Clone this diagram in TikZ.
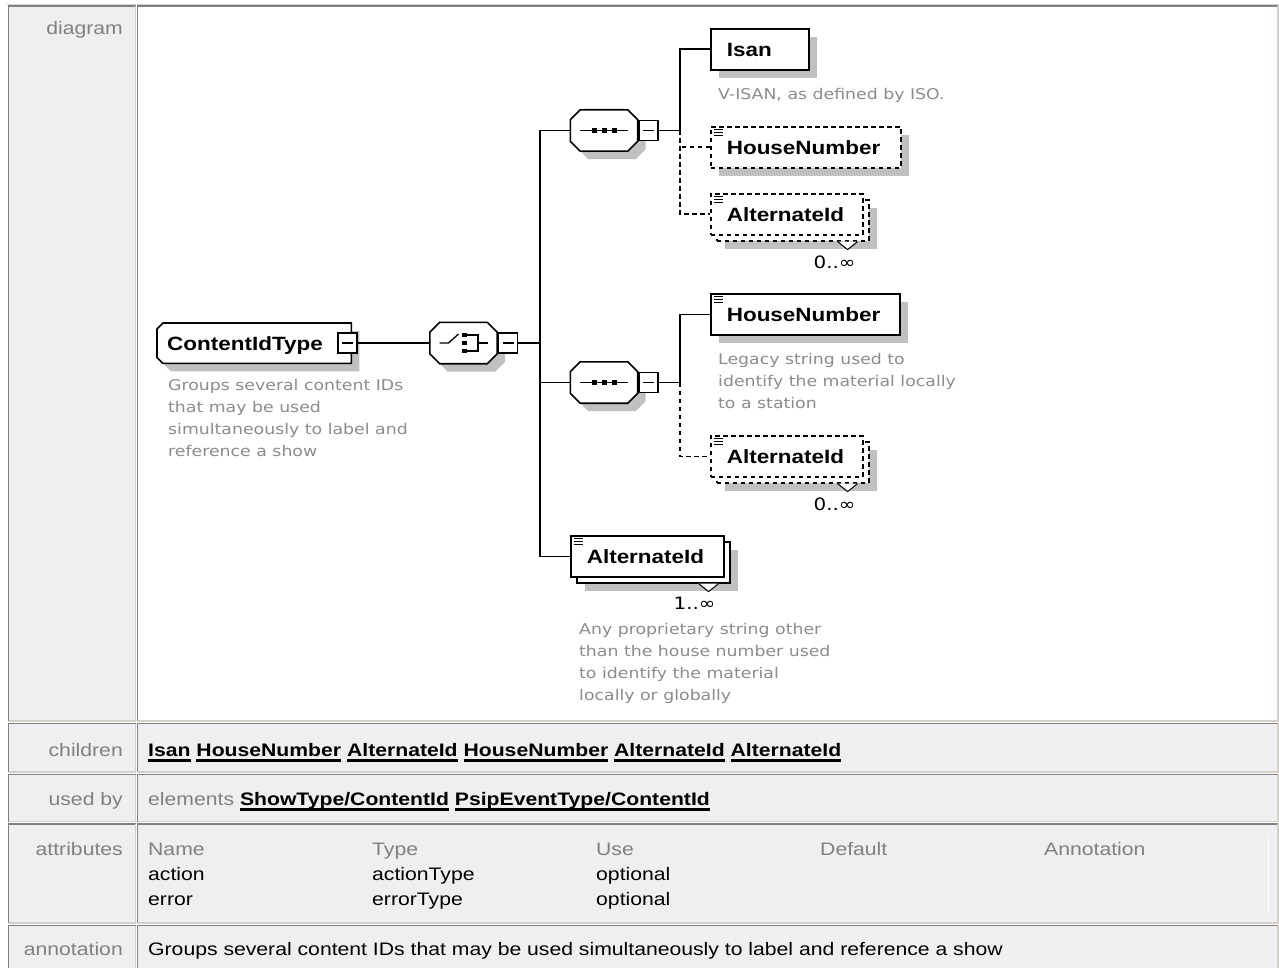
\documentclass[tikz,border=0pt]{standalone}
\usepackage{fontspec}
\setmainfont{Liberation Sans}
\newfontfamily\tabfam[FakeStretch=1.17]{Liberation Sans}
\newfontfamily\notefam[FakeStretch=1.17]{DejaVu Sans}
\usetikzlibrary{positioning}

\definecolor{cellgray}{HTML}{EFEFEF}
\definecolor{edgedark}{HTML}{808080}
\definecolor{edgelight}{HTML}{D4D0C8}
\definecolor{labelgray}{HTML}{808080}
\definecolor{notegray}{HTML}{8C8C8C}
\definecolor{shadowgray}{HTML}{C0C0C0}

\newcommand{\xsdname}{\tabfam\bfseries\fontsize{19.2}{23}\selectfont}
\newcommand{\xsdnote}{\notefam\fontsize{14.8}{22}\selectfont}
\newcommand{\xsdcard}{\notefam\fontsize{17}{20}\selectfont}
\newcommand{\xsdrow}{\tabfam\fontsize{18.1}{22}\selectfont}
\newcommand{\xsdlink}[1]{\setbox0=\hbox{#1}\rlap{\rule[-5.5pt]{\wd0}{2.5pt}}\box0\relax}
\newcommand{\octpath}[1]{([xshift=10pt]#1.north west) -- ([xshift=-10pt]#1.north east) -- ([yshift=-10pt]#1.north east) -- ([yshift=10pt]#1.south east) -- ([xshift=-10pt]#1.south east) -- ([xshift=10pt]#1.south west) -- ([yshift=10pt]#1.south west) -- ([yshift=-10pt]#1.north west) -- cycle}
\newcommand{\ctpath}{([xshift=6pt]ct.north west) -- (ct.north east) -- (ct.south east) -- ([xshift=6pt]ct.south west) -- ([yshift=6pt]ct.south west) -- ([yshift=-6pt]ct.north west) -- cycle}

\tikzset{
  wire/.style={line width=1.6pt},
  opt/.style={dash pattern=on 4.5pt off 3.5pt},
  elem/.style={draw, line width=1.6pt, fill=white, anchor=north west, inner xsep=16pt, inner ysep=0pt,
    minimum height=41pt, text height=13.7pt, text depth=0pt, align=left, font=\xsdname},
  shadowed/.style={preaction={fill=shadowgray, draw=none, transform canvas={xshift=8pt,yshift=-8pt}}},
  multi/.style={preaction={fill=shadowgray, draw=none, transform canvas={xshift=14pt,yshift=-14pt}},
    preaction={fill=white, draw, transform canvas={xshift=6pt,yshift=-6pt}}},
  leaf/.style={path picture={\draw[solid, line width=1.1pt]
    ([shift={(3pt,-2.5pt)}]path picture bounding box.north west) -- ++(9pt,0pt)
    ([shift={(3pt,-5.5pt)}]path picture bounding box.north west) -- ++(9pt,0pt)
    ([shift={(3pt,-8.5pt)}]path picture bounding box.north west) -- ++(9pt,0pt);}},
  expander/.style={draw, fill=white, line width=1.6pt, minimum width=19pt, minimum height=20pt, inner sep=0pt,
    path picture={\draw[line width=1.6pt] ([xshift=4pt]path picture bounding box.west) -- ([xshift=-4pt]path picture bounding box.east);}},
  frame/.style={inner sep=0pt, anchor=north west},
  comp/.style={inner sep=0pt, minimum width=67pt, minimum height=41pt},
  note/.style={inner sep=0pt, align=left, text=notegray, font=\xsdnote},
  card/.style={inner sep=0pt, font=\xsdcard},
  rowlabel/.style={anchor=base east, inner sep=0pt, text=labelgray, font=\xsdrow},
  cell/.style={anchor=base west, inner sep=0pt, font=\xsdrow}
}

\begin{document}
\begin{tikzpicture}[x=1pt, y=-1pt]
\useasboundingbox (0,0) rectangle (1279,968);

% table
\draw[edgelight, line width=1.5pt] (7,4.5) -- (1279,4.5);
\foreach \t/\b/\bg in {6/721/white, 723.5/772/cellgray, 774.5/821.5/cellgray, 824/923/cellgray, 925.5/975/cellgray}{
  \fill[cellgray] (8,\t) rectangle (135.5,\b);
  \fill[\bg] (137,\t) rectangle (1278,\b);
  \draw[edgedark, line width=1.5pt] (8.5,\b) -- (8.5,\t) -- (135.5,\t) (137.5,\b) -- (137.5,\t) -- (1278,\t);
  \draw[edgelight, line width=1.5pt] (135.5,\t) -- (135.5,\b) -- (8.5,\b) (1278,\t) -- (1278,\b) -- (137.5,\b);
}
\draw[white, line width=1pt] (1268,835) -- (1268,912);

\node[rowlabel] (lbdiagram) at (123,35) {diagram};
\node[rowlabel] (lbchildren) at (123,756) {children};
\node[rowlabel] (lbusedby) at (123,805) {used by};
\node[rowlabel] (lbattr) at (123,855) {attributes};
\node[rowlabel] (lbannot) at (123,955) {annotation};

\node[cell] (children) at (148,756) {\bfseries\xsdlink{Isan} \xsdlink{HouseNumber} \xsdlink{AlternateId} \xsdlink{HouseNumber} \xsdlink{AlternateId} \xsdlink{AlternateId}};
\node[cell] (usedby) at (148,805) {\textcolor{labelgray}{elements} \bfseries\xsdlink{ShowType/ContentId} \xsdlink{PsipEventType/ContentId}};
\foreach \h [count=\i from 0] in {Name,Type,Use,Default,Annotation}
  \node[cell, text=labelgray] (head\i) at (148+224*\i,855) {\h};
\foreach \n/\ty/\yy in {action/actionType/880, error/errorType/905}{
  \node[cell] (\n name) at (148,\yy) {\n};
  \node[cell] (\n type) at (372,\yy) {\ty};
  \node[cell] (\n use) at (596,\yy) {optional};
}
\node[cell] (annotation) at (148,955) {Groups several content IDs that may be used simultaneously to label and reference a show};

% complex type
\node[frame, minimum width=194pt, minimum height=40pt] (ct) at (157,323) {};
\fill[shadowgray, transform canvas={xshift=8pt,yshift=-8pt}] \ctpath;
\draw[wire, fill=white] \ctpath;
\node[font=\xsdname, anchor=west, inner sep=0pt, text height=13.7pt, text depth=0pt] (ctname) at ([xshift=10pt]ct.west) {ContentIdType};
\node[note, below right=16pt and 11pt of ct.south west] (ctnote) {Groups several content IDs\\that may be used\\simultaneously to label and\\reference a show};

% compositors
\node[comp] (ch) at (463.5,343) {};
\node[comp] (s1) at (604,130.5) {};
\node[comp] (s2) at (604,382.5) {};
\foreach \c in {ch,s1,s2}{
  \fill[shadowgray, transform canvas={xshift=8pt,yshift=-8pt}] \octpath{\c};
  \draw[wire, fill=white] \octpath{\c};
}
% choice symbol
\draw[line width=1.3pt] ([xshift=-24pt]ch.center) -- ++(9pt,0pt) -- ++(10pt,9pt);
\foreach \dy in {6,-2,-10}
  \fill ([shift={(-1.5pt,\dy pt)}]ch.center) rectangle ++(5pt,4pt);
\draw[line width=1.3pt] ([shift={(3.5pt,8pt)}]ch.center) -- ++(11pt,0pt) -- ++(0pt,-16pt) -- ++(-11pt,0pt)
  ([xshift=14.5pt]ch.center) -- ++(10pt,0pt);
% sequence symbols
\foreach \c in {s1,s2}{
  \draw[line width=1.3pt] ([xshift=-24pt]\c.center) -- ++(48pt,0pt);
  \foreach \dx in {-12.5,-2.5,7.5}
    \fill ([shift={(\dx pt,-2.5pt)}]\c.center) rectangle ++(5pt,5pt);
}

\node[expander] (ctx) at (347.5,343) {};
\node[expander] (chx) at (508,343) {};
\node[expander] (s1x) at (648.5,130.5) {};
\node[expander] (s2x) at (648.5,382.5) {};

% elements
\node[elem, shadowed, text width=66pt] (isan) at (710,28) {Isan};
\node[elem, shadowed, opt, leaf, text width=158pt] (hn1) at (710,126) {HouseNumber};
\node[elem, multi, opt, leaf, text width=120pt] (alt1) at (710,193) {AlternateId};
\node[elem, shadowed, leaf, text width=157pt] (hn2) at (710,293) {HouseNumber};
\node[elem, multi, opt, leaf, text width=120pt] (alt2) at (710,435) {AlternateId};
\node[elem, multi, leaf, text width=121pt] (alt3) at (570,535) {AlternateId};

\foreach \a in {alt1,alt2,alt3}
  \filldraw[fill=white, line width=1pt] ([shift={(-26pt,-6pt)}]\a.south east) -- ++(10pt,-8pt) -- ++(10pt,8pt);

\node[card] (alt1card) at ([shift={(-29pt,-27pt)}]alt1.south east) {0..∞};
\node[card] (alt2card) at ([shift={(-29pt,-27pt)}]alt2.south east) {0..∞};
\node[card] (alt3card) at ([shift={(-30pt,-26pt)}]alt3.south east) {1..∞};

\node[note, below right=17pt and 8pt of isan.south west] (isannote) {V-ISAN, as defined by ISO.};
\node[note, below right=17pt and 8pt of hn2.south west] (hn2note) {Legacy string used to\\identify the material locally\\to a station};
\node[note, below right=45pt and 9pt of alt3.south west] (alt3note) {Any proprietary string other\\than the house number used\\to identify the material\\locally or globally};

% connectors
\coordinate (hub) at (540,343);
\coordinate (fork1) at (680,130.5);
\coordinate (fork2) at (680,382.5);
\draw[wire] (ctx.east) -- (ch.west);
\draw[wire] (chx.east) -- (hub);
\draw[wire] (s1.west) -| (hub);
\draw[wire] (alt3.west) -| (hub);
\draw[wire] (s2.west) -- (s2.west -| hub);
\draw[wire] (s1x.east) -- (fork1);
\draw[wire] (isan.west) -| (fork1);
\draw[wire, opt] (hn1.west) -- (hn1.west -| fork1);
\draw[wire, opt] (fork1) |- (alt1.west);
\draw[wire] (s2x.east) -- (fork2);
\draw[wire] (hn2.west) -| (fork2);
\draw[wire, opt] (fork2) |- (alt2.west);
\end{tikzpicture}
\end{document}
